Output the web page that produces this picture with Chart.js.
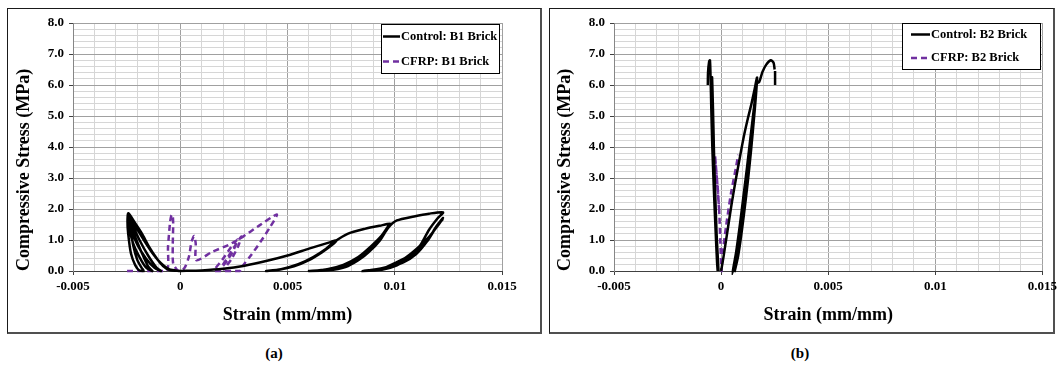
<!DOCTYPE html>
<html>
<head>
<meta charset="utf-8">
<script src="https://cdn.jsdelivr.net/npm/chart.js@4.4.1/dist/chart.umd.min.js"></script>
<style>
  body { margin: 0; background: #fff; width: 1061px; height: 371px; overflow: hidden; position: relative; }
  .frame { position: absolute; box-sizing: border-box; border: 1px solid #1a1a1a; border-right: 2px solid #505050; border-bottom: 2px solid #505050; }
  canvas { position: absolute; }
  .caption { position: absolute; top: 345px; width: 40px; text-align: center; font: bold 15px "Liberation Serif", "Times New Roman", serif; color: #000; }
</style>
</head>
<body>
<div class="frame" style="left:7px; top:8px; width:535px; height:326px;"></div>
<div class="frame" style="left:549px; top:8px; width:506px; height:326px;"></div>
<canvas id="chart-a" width="530" height="322" style="left:9px; top:9px;"></canvas>
<canvas id="chart-b" width="511" height="322" style="left:550px; top:9px;"></canvas>
<div class="caption" style="left:254px;">(a)</div>
<div class="caption" style="left:780px;">(b)</div>

<script>
// 目盛り
const xTickValues = [-0.005, 0, 0.005, 0.01, 0.015];
const yTickValues = [0, 1, 2, 3, 4, 5, 6, 7, 8];

// (a) B1 Brick - null で線を切る（横ひずみ / 軸ひずみ）
const b1ControlStrain = [
  0, -0.0005, -0.0008, -0.0011, -0.00145, -0.0018, -0.0021, -0.00242,
  -0.00246, -0.00243, -0.0023, -0.0021, -0.0019, -0.0017,
  -0.0018, -0.002, -0.0022, -0.0023, -0.0024,
  -0.00238, -0.0022, -0.0019, -0.0016, -0.0013,
  -0.0015, -0.0018, -0.0021, -0.0023, -0.00243,
  -0.0023, -0.002, -0.0016, -0.0012, -0.0009,
  -0.0011, -0.0015, -0.0019, -0.0022, -0.00242,
  -0.0021, -0.0017, -0.0013, -0.0009, -0.0005, 0,
  null,
  0, 0.001, 0.002, 0.003, 0.004, 0.005, 0.006, 0.007, 0.0073,
  0.0071, 0.0066, 0.006, 0.0053, 0.0046, 0.004,
  0.0047, 0.0055, 0.0062, 0.0068, 0.0072,
  0.0078, 0.0086, 0.0093, 0.0098,
  0.0096, 0.0092, 0.0088, 0.0083, 0.0077, 0.0069, 0.006,
  0.0068, 0.0076, 0.0083, 0.0089, 0.0094, 0.0097,
  0.0093, 0.0088, 0.0082, 0.0075, 0.0066,
  0.0074, 0.0082, 0.0088, 0.0093, 0.0097,
  0.0101, 0.0109, 0.0116, 0.01225,
  0.012, 0.0116, 0.0112, 0.0107, 0.0101, 0.0094, 0.0085,
  0.0094, 0.0101, 0.0109, 0.0115, 0.0119, 0.01225,
  0.0119, 0.0115, 0.011, 0.0104, 0.0096, 0.0088,
  0.0096, 0.0104, 0.011, 0.0116, 0.0121, 0.01225
];
const b1ControlStress = [
  0, 0.03, 0.16, 0.41, 0.78, 1.22, 1.54, 1.86,
  1.6, 1.22, 0.57, 0.19, 0.01, 0,
  0.1, 0.35, 0.85, 1.3, 1.72,
  1.4, 0.9, 0.45, 0.12, 0,
  0.15, 0.6, 1.1, 1.5, 1.8,
  1.35, 0.85, 0.4, 0.1, 0,
  0.1, 0.5, 1.0, 1.45, 1.78,
  1.45, 1.0, 0.58, 0.25, 0.05, 0,
  null,
  0, 0.02, 0.07, 0.17, 0.32, 0.5, 0.72, 0.93, 1.0,
  0.85, 0.6, 0.35, 0.15, 0.04, 0,
  0.06, 0.22, 0.45, 0.72, 0.95,
  1.2, 1.36, 1.46, 1.52,
  1.33, 0.95, 0.62, 0.35, 0.13, 0.02, 0,
  0.05, 0.2, 0.45, 0.8, 1.15, 1.45,
  1.05, 0.68, 0.38, 0.15, 0.03,
  0.1, 0.32, 0.62, 0.98, 1.4,
  1.63, 1.76, 1.85, 1.89,
  1.7, 1.33, 0.84, 0.46, 0.18, 0.04, 0,
  0.08, 0.29, 0.57, 0.95, 1.38, 1.71,
  1.4, 0.95, 0.55, 0.28, 0.1, 0.02,
  0.12, 0.38, 0.7, 1.1, 1.55, 1.68
];
const b1CfrpStrain = [
  -0.00248, -0.0015, -0.00063, -0.00057, -0.00048, -0.00042, -0.00036, -0.00033, -0.00035, -0.00033, -0.00015, 0,
  0.0002, 0.0004, 0.00053, 0.00065, 0.00072, 0.00075,
  0.0015, 0.00225, 0.00293, 0.0036, 0.0045,
  0.0042, 0.00375, 0.0033, 0.00293, 0.00278,
  0.0016, 0.00195, 0.00233, 0.00267,
  0.0025, 0.0022, 0.0018,
  0.00218, 0.00252, 0.00285,
  0.0027, 0.0024, 0.002
];
const b1CfrpStress = [
  0, 0, 0, 0.78, 1.54, 1.78, 1.82, 1.54, 0.78, 0.24, 0.04, 0,
  0.1, 0.45, 0.95, 1.13, 0.89, 0.35,
  0.62, 0.84, 1.11, 1.43, 1.82,
  1.43, 0.95, 0.51, 0.18, 0,
  0, 0.35, 0.73, 1.02,
  0.7, 0.35, 0,
  0.4, 0.78, 1.11,
  0.8, 0.4, 0.02
];

// (b) B2 Brick
const b2ControlStrain = [
  -0.00062, -0.00061, -0.00056, -0.00052, -0.00049, -0.00046, -0.00041, -0.00033, -0.00025, -0.00019, -0.00016,
  -0.00019, -0.00025, -0.00031, -0.00036, -0.0004, -0.00042,
  -0.0004, -0.00035, -0.00028, -0.00021, -0.00012,
  null,
  0, 0.0001, 0.0003, 0.0005, 0.0007, 0.00088, 0.00108, 0.00126, 0.00142, 0.00156, 0.00168,
  0.00162, 0.00152, 0.0014, 0.00125, 0.00108, 0.0009, 0.0007, 0.00055,
  0.0007, 0.00088, 0.00106, 0.00122, 0.00137, 0.00149, 0.00159, 0.00166,
  0.00158, 0.00146, 0.00131, 0.00115, 0.00097, 0.0008, 0.00064,
  0.00082, 0.00101, 0.00118, 0.00133, 0.00146, 0.00156, 0.00167,
  0.00178, 0.00193, 0.0021, 0.00232, 0.00245, 0.0025,
  null,
  0.00252, 0.00252
];
const b2ControlStress = [
  6.0, 6.4, 6.75, 6.8, 6.2, 5.3, 4.0, 2.5, 1.2, 0.3, 0,
  0.6, 1.8, 3.2, 4.7, 5.8, 6.25,
  5.4, 4.2, 2.6, 1.2, 0,
  null,
  0, 0.4, 1.3, 2.2, 3.0, 3.68, 4.4, 4.95, 5.4, 5.85, 6.24,
  5.6, 4.8, 3.9, 2.9, 1.9, 1.0, 0.3, 0,
  0.6, 1.5, 2.5, 3.4, 4.3, 5.0, 5.6, 6.1,
  5.3, 4.4, 3.4, 2.3, 1.3, 0.5, 0,
  1.0, 2.07, 2.9, 3.69, 4.5, 5.19, 6.05,
  6.1, 6.42, 6.65, 6.8, 6.72, 6.5,
  null,
  6.45, 6.0
];
const b2CfrpStrain = [
  -0.00028, -0.00022, -0.00015, -0.00008, -0.00016, -0.00027,
  -0.00021, -0.00014, -0.00008, -0.00004, 0, 0.00002,
  0.00008, 0.00023, 0.00046, 0.0007, 0.0008
];
const b2CfrpStress = [
  3.7, 3.2, 2.6, 1.86, 2.6, 3.6,
  3.1, 2.5, 1.8, 1.0, 0.3, 0,
  0.6, 1.43, 2.5, 3.36, 3.75
];

const FONT = '"Liberation Serif", "Times New Roman", serif';
Chart.defaults.font.family = FONT;
Chart.defaults.font.weight = 'bold';
Chart.defaults.color = '#000';

function toPoints(xs, ys) {
  return xs.map((x, i) => ({ x: x, y: ys[i] }));
}

function isMajor(value, list) {
  return list.some(t => Math.abs(t - value) < 1e-9);
}

// 凡例（プロット内の枠付き）
const boxLegend = {
  id: 'boxLegend',
  afterDraw(chart, args, opts) {
    const { ctx, chartArea } = chart;
    const x = Math.round(chartArea.right - opts.right - opts.width);
    const y = Math.round(chartArea.top + opts.top);
    ctx.save();
    ctx.fillStyle = '#fff';
    ctx.fillRect(x, y, opts.width, opts.height);
    ctx.strokeStyle = '#000';
    ctx.lineWidth = 1;
    ctx.strokeRect(x + 0.5, y + 0.5, opts.width, opts.height);
    ctx.font = 'bold 12.5px ' + FONT;
    ctx.textBaseline = 'middle';
    chart.data.datasets.forEach((ds, i) => {
      const ly = y + opts.rows[i];
      ctx.strokeStyle = ds.borderColor;
      ctx.lineWidth = 2.5;
      ctx.setLineDash(ds.borderDash || []);
      ctx.beginPath();
      ctx.moveTo(x + opts.lineStart, ly);
      ctx.lineTo(x + opts.lineEnd, ly);
      ctx.stroke();
      ctx.setLineDash([]);
      ctx.fillStyle = '#000';
      ctx.fillText(ds.label, x + opts.lineEnd + 1, ly);
    });
    ctx.restore();
  }
};

const panelConfigs = [
  {
    canvasId: 'chart-a', padRight: 37,
    legend: { right: 3, top: 1, width: 118, height: 49, rows: [12.5, 37.5], lineStart: 2, lineEnd: 19 },
    series: [
      { label: 'Control: B1 Brick', xs: b1ControlStrain, ys: b1ControlStress, color: '#000000', dash: [] },
      { label: 'CFRP: B1 Brick', xs: b1CfrpStrain, ys: b1CfrpStress, color: '#7030A0', dash: [6, 4] }
    ]
  },
  {
    canvasId: 'chart-b', padRight: 17,
    legend: { right: 2, top: 0, width: 138, height: 46, rows: [11.5, 35], lineStart: 9, lineEnd: 28 },
    series: [
      { label: 'Control: B2 Brick', xs: b2ControlStrain, ys: b2ControlStress, color: '#000000', dash: [] },
      { label: 'CFRP: B2 Brick', xs: b2CfrpStrain, ys: b2CfrpStress, color: '#7030A0', dash: [6, 4] }
    ]
  }
];

function createPanel(config) {
  const ctx = document.getElementById(config.canvasId).getContext('2d');
  return new Chart(ctx, {
    type: 'scatter',
    data: {
      datasets: config.series.map(s => ({
        label: s.label,
        data: toPoints(s.xs, s.ys),
        showLine: true,
        borderColor: s.color,
        backgroundColor: s.color,
        borderWidth: 2.5,
        borderDash: s.dash,
        pointRadius: 0,
        tension: 0.25,
        spanGaps: false,
        clip: 4
      }))
    },
    options: {
      responsive: false,
      animation: false,
      devicePixelRatio: 1,
      layout: { padding: { top: 14, right: config.padRight, left: 0, bottom: 0 } },
      plugins: {
        legend: { display: false },
        tooltip: { enabled: false },
        boxLegend: config.legend
      },
      scales: {
        x: {
          type: 'linear',
          min: -0.005,
          max: 0.015,
          afterFit: s => { s.height = 60; },
          ticks: {
            stepSize: 0.001,
            autoSkip: false,
            maxRotation: 0,
            padding: 4,
            font: { size: 13, weight: 'bold' },
            callback: v => isMajor(v, xTickValues) ? String(+v.toFixed(3)) : ''
          },
          grid: {
            color: c => (c.tick && isMajor(c.tick.value, xTickValues)) ? '#a0a0a0' : '#d6d6d6',
            tickColor: c => (c.tick && isMajor(c.tick.value, xTickValues)) ? '#404040' : 'rgba(0,0,0,0)',
            tickLength: 4
          },
          border: { color: '#404040', width: 1 },
          title: { display: true, text: 'Strain (mm/mm)', font: { size: 18, weight: 'bold' }, padding: { top: 0, bottom: 5 } }
        },
        y: {
          type: 'linear',
          min: 0,
          max: 8,
          afterFit: s => { s.width = 64; },
          ticks: {
            stepSize: 0.2,
            autoSkip: false,
            padding: 5,
            font: { size: 13, weight: 'bold' },
            callback: v => isMajor(v, yTickValues) ? v.toFixed(1) : ''
          },
          grid: {
            color: c => (c.tick && isMajor(c.tick.value, yTickValues)) ? '#a0a0a0' : '#d6d6d6',
            tickColor: c => (c.tick && isMajor(c.tick.value, yTickValues)) ? '#404040' : 'rgba(0,0,0,0)',
            tickLength: 4
          },
          border: { color: '#868686', width: 1 },
          title: { display: true, align: 'start', text: 'Compressive Stress (MPa)', font: { size: 18, weight: 'bold' }, padding: { top: 5, bottom: 0 } }
        }
      }
    },
    plugins: [boxLegend]
  });
}

panelConfigs.forEach(createPanel);
</script>
</body>
</html>
